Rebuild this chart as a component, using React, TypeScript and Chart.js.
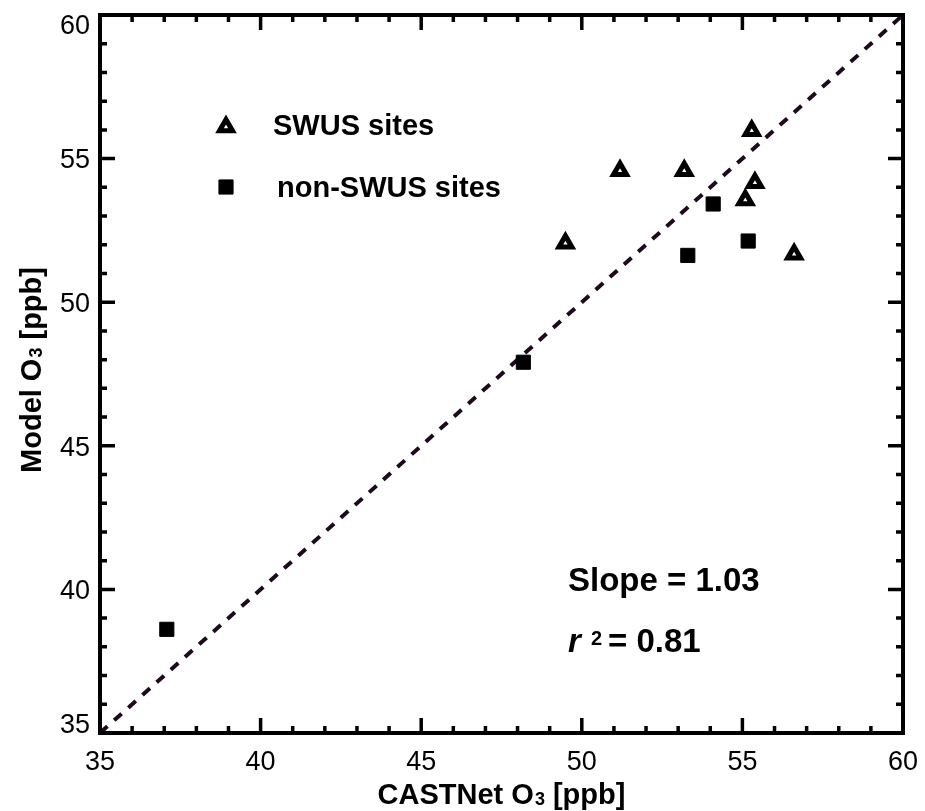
import React, { useEffect, useRef } from 'react';
import { Chart, registerables } from 'chart.js';

Chart.register(...registerables);

// ---- data ----
const swusX = [55.29, 51.19, 53.19, 55.39, 55.09, 49.49, 56.61];
const swusY = [55.97, 54.58, 54.58, 54.16, 53.56, 52.05, 51.67];
const nonSwusX = [54.09, 55.18, 53.3, 48.18, 37.08];
const nonSwusY = [53.42, 52.13, 51.63, 47.91, 38.61];
const diagX = [35, 60];
const diagY = [35, 60];
const xTicks = [35, 40, 45, 50, 55, 60];
const yTicks = [35, 40, 45, 50, 55, 60];
const axisMin = 35;
const axisMax = 60;
const legendLabels = ['SWUS sites', 'non-SWUS sites'];
const slopeText = 'Slope = 1.03';
const r2Value = '= 0.81';

const FONT = '"Liberation Sans", Arial, Helvetica, sans-serif';
const TRI_R = 7.5;
const TRI_BW = 5;
const SQ_R = 10;

function drawTriangle(ctx: CanvasRenderingContext2D, x: number, y: number, r: number) {
  ctx.save();
  ctx.beginPath();
  let rad = 0;
  ctx.moveTo(x + Math.sin(rad) * r, y - Math.cos(rad) * r);
  rad += (2 * Math.PI) / 3;
  ctx.lineTo(x + Math.sin(rad) * r, y - Math.cos(rad) * r);
  rad += (2 * Math.PI) / 3;
  ctx.lineTo(x + Math.sin(rad) * r, y - Math.cos(rad) * r);
  ctx.closePath();
  ctx.fillStyle = '#ffffff';
  ctx.fill();
  ctx.lineWidth = TRI_BW;
  ctx.strokeStyle = '#000000';
  ctx.stroke();
  ctx.restore();
}

function drawSquare(ctx: CanvasRenderingContext2D, x: number, y: number, r: number) {
  const h = Math.SQRT1_2 * r;
  ctx.save();
  ctx.fillStyle = '#000000';
  ctx.strokeStyle = '#000000';
  ctx.lineWidth = 1;
  ctx.beginPath();
  ctx.rect(x - h, y - h, 2 * h, 2 * h);
  ctx.fill();
  ctx.stroke();
  ctx.restore();
}

// draw text with a small "3" subscript after "O"
function subParts(title: string): { t: string; small: boolean }[] {
  const idx = title.indexOf('O3');
  if (idx < 0) return [{ t: title, small: false }];
  return [
    { t: title.slice(0, idx + 1), small: false },
    { t: '3', small: true },
    { t: title.slice(idx + 2), small: false },
  ];
}

function drawSubTitle(ctx: CanvasRenderingContext2D, title: string, cx: number, baseline: number, size: number) {
  const parts = subParts(title);
  const big = `bold ${size}px ${FONT}`;
  const small = `bold ${Math.round(size * 0.62)}px ${FONT}`;
  let total = 0;
  const widths = parts.map((p) => {
    ctx.font = p.small ? small : big;
    const w = ctx.measureText(p.t).width + (p.small ? 1 : 0);
    total += w;
    return w;
  });
  let x = cx - total / 2;
  ctx.textAlign = 'left';
  ctx.textBaseline = 'alphabetic';
  parts.forEach((p, i) => {
    ctx.font = p.small ? small : big;
    ctx.fillText(p.t, x + (p.small ? 1 : 0), baseline + (p.small ? 1 : 0));
    x += widths[i];
  });
}

const framePlugin = {
  id: 'framePlugin',
  afterDatasetsDraw(chart: any) {
    const ctx: CanvasRenderingContext2D = chart.ctx;
    const { left, right, top, bottom } = chart.chartArea;
    const xs = chart.scales.x;
    const ys = chart.scales.y;
    ctx.save();
    ctx.strokeStyle = '#000000';
    ctx.fillStyle = '#000000';

    // minor / major ticks (inward, all four sides)
    ctx.lineWidth = 3.5;
    ctx.lineCap = 'butt';
    for (let v = axisMin + 1; v < axisMax; v++) {
      const len = v % 5 === 0 ? 15 : 7;
      const px = xs.getPixelForValue(v);
      const py = ys.getPixelForValue(v);
      ctx.beginPath();
      ctx.moveTo(px, bottom);
      ctx.lineTo(px, bottom - len);
      ctx.moveTo(px, top);
      ctx.lineTo(px, top + len);
      ctx.moveTo(left, py);
      ctx.lineTo(left + len, py);
      ctx.moveTo(right, py);
      ctx.lineTo(right - len, py);
      ctx.stroke();
    }

    // frame
    ctx.lineWidth = 4;
    ctx.lineJoin = 'miter';
    ctx.strokeRect(left, top, right - left, bottom - top);

    // tick labels
    const tickSize = 27;
    ctx.font = `${tickSize}px ${FONT}`;
    ctx.textBaseline = 'alphabetic';
    ctx.textAlign = 'center';
    xTicks.forEach((v) => {
      ctx.fillText(String(v), xs.getPixelForValue(v), bottom + 37);
    });
    ctx.textAlign = 'right';
    const half = tickSize * 0.36;
    yTicks.forEach((v) => {
      let cy = ys.getPixelForValue(v);
      cy = Math.min(Math.max(cy, top + half), bottom - half);
      ctx.fillText(String(v), left - 10, cy + half);
    });

    // axis titles
    drawSubTitle(ctx, 'CASTNet O3 [ppb]', (left + right) / 2, bottom + 71, 29);
    ctx.save();
    ctx.translate(41, (top + bottom) / 2 - 4);
    ctx.rotate(-Math.PI / 2);
    drawSubTitle(ctx, 'Model O3 [ppb]', 0, 0, 29);
    ctx.restore();

    // legend
    const lx = left + 126;
    drawTriangle(ctx, lx, 127, TRI_R);
    drawSquare(ctx, lx, 187, SQ_R);
    ctx.fillStyle = '#000000';
    ctx.font = `bold 29px ${FONT}`;
    ctx.textAlign = 'left';
    ctx.textBaseline = 'alphabetic';
    ctx.fillText(legendLabels[0], lx + 47, 135);
    ctx.fillText(legendLabels[1], lx + 51, 197);

    // stats text
    const sx = 568;
    ctx.font = `bold 33px ${FONT}`;
    ctx.fillText(slopeText, sx, 591);
    ctx.font = `italic bold 33px ${FONT}`;
    ctx.fillText('r', sx, 652);
    ctx.font = `bold 20px ${FONT}`;
    ctx.fillText('2', sx + 23, 645);
    ctx.font = `bold 33px ${FONT}`;
    ctx.fillText(r2Value, sx + 40, 652);

    ctx.restore();
  },
};

export default function App() {
  const canvasRef = useRef<HTMLCanvasElement | null>(null);

  useEffect(() => {
    const canvas = canvasRef.current;
    if (!canvas) return;
    const chart = new Chart(canvas, {
      type: 'scatter',
      data: {
        datasets: [
          {
            type: 'line',
            label: '1:1',
            data: diagX.map((x, i) => ({ x, y: diagY[i] })),
            borderColor: '#1e0a1c',
            borderWidth: 4,
            borderDash: [10, 9],
            pointRadius: 0,
            fill: false,
            order: 3,
          },
          {
            label: legendLabels[0],
            data: swusX.map((x, i) => ({ x, y: swusY[i] })),
            pointStyle: 'triangle',
            pointRadius: TRI_R,
            pointBorderWidth: TRI_BW,
            pointBackgroundColor: '#ffffff',
            pointBorderColor: '#000000',
            order: 1,
          },
          {
            label: legendLabels[1],
            data: nonSwusX.map((x, i) => ({ x, y: nonSwusY[i] })),
            pointStyle: 'rect',
            pointRadius: SQ_R,
            pointBorderWidth: 1,
            pointBackgroundColor: '#000000',
            pointBorderColor: '#000000',
            order: 2,
          },
        ],
      } as any,
      options: {
        animation: false,
        responsive: false,
        devicePixelRatio: 1,
        layout: { padding: { left: 100, right: 22, top: 15, bottom: 78 } },
        scales: {
          x: { type: 'linear', min: axisMin, max: axisMax, display: false },
          y: { type: 'linear', min: axisMin, max: axisMax, display: false },
        },
        plugins: {
          legend: { display: false },
          tooltip: { enabled: false },
        },
      } as any,
      plugins: [framePlugin],
    });
    return () => chart.destroy();
  }, []);

  return (
    <div style={{ position: 'absolute', left: 0, top: 0, width: 925, height: 811, background: '#ffffff' }}>
      <canvas ref={canvasRef} width={925} height={811} style={{ display: 'block' }} />
    </div>
  );
}
